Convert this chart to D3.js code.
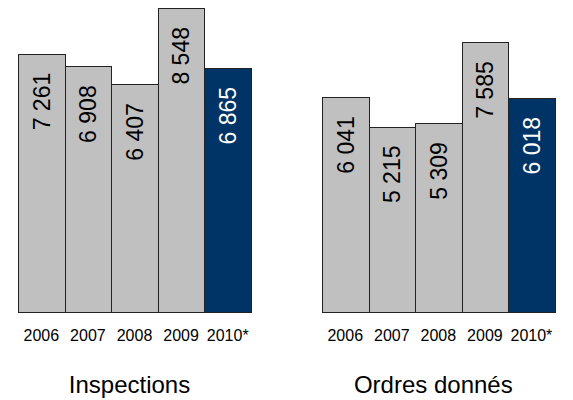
<!DOCTYPE html>
<html>
<head>
<meta charset="utf-8">
<script src="https://cdn.jsdelivr.net/npm/d3@7"></script>
<style>
  html, body { margin: 0; padding: 0; background: #fff; }
  svg { display: block; }
  text { font-family: "Liberation Sans", Arial, Helvetica, sans-serif; }
</style>
</head>
<body>
<svg id="chart" width="573" height="400"></svg>
<script>
// ---- data ----
const years = ["2006", "2007", "2008", "2009", "2010*"];
const inspections = [7261, 6908, 6407, 8548, 6865];
const ordresDonnes = [6041, 5215, 5309, 7585, 6018];
const panelTitles = ["Inspections", "Ordres donnés"];
const highlightYear = "2010*";

// ---- layout ----
const svg = d3.select("#chart");
const baseY = 312, topY = 8;
const grey = "#C0C0C0", navy = "#003366", edge = "#222";

const fr = d3.formatLocale({ decimal: ",", thousands: " ", grouping: [3], currency: ["", ""] });
const fmt = fr.format(",d");

const y = d3.scaleLinear().domain([0, d3.max(inspections)]).range([baseY, topY]);

const panels = [
  { title: panelTitles[0], values: inspections, x0: 18, x1: 251 },
  { title: panelTitles[1], values: ordresDonnes, x0: 322, x1: 554.7 }
];

panels.forEach(p => {
  const x = d3.scaleBand().domain(years).range([p.x0, p.x1]).padding(0);
  const data = years.map((yr, i) => ({ year: yr, value: p.values[i] }));
  const g = svg.append("g");

  g.selectAll("rect.bar").data(data).enter().append("rect")
    .attr("class", "bar")
    .attr("x", d => Math.round(x(d.year)) + 0.5)
    .attr("y", d => Math.round(y(d.value)) + 0.5)
    .attr("width", d => Math.round(x(d.year) + x.bandwidth()) - Math.round(x(d.year)))
    .attr("height", d => Math.round(baseY) - Math.round(y(d.value)))
    .attr("fill", d => d.year === highlightYear ? navy : grey)
    .attr("stroke", edge)
    .attr("stroke-width", 1);

  g.selectAll("text.val").data(data).enter().append("text")
    .attr("class", "val")
    .attr("transform", d => `translate(${x(d.year) + x.bandwidth() / 2},${y(d.value) + 19}) rotate(-90)`)
    .attr("text-anchor", "end")
    .attr("dy", "0.36em")
    .attr("font-size", "23px")
    .attr("fill", d => d.year === highlightYear ? "#fff" : "#000")
    .text(d => fmt(d.value));

  // category axis (no line, no ticks)
  const axis = d3.axisBottom(x).tickSize(0).tickPadding(0);
  const ag = g.append("g").attr("transform", `translate(0,${baseY})`).call(axis);
  ag.attr("font-size", null).attr("font-family", null);
  ag.select(".domain").remove();
  ag.selectAll("text")
    .attr("y", 28.5)
    .attr("dy", 0)
    .attr("font-size", "16px")
    .attr("fill", "#000");

  g.append("text")
    .attr("x", (p.x0 + p.x1) / 2 - 5)
    .attr("y", 393)
    .attr("text-anchor", "middle")
    .attr("font-size", "24px")
    .attr("fill", "#000")
    .text(p.title);
});
</script>
</body>
</html>
